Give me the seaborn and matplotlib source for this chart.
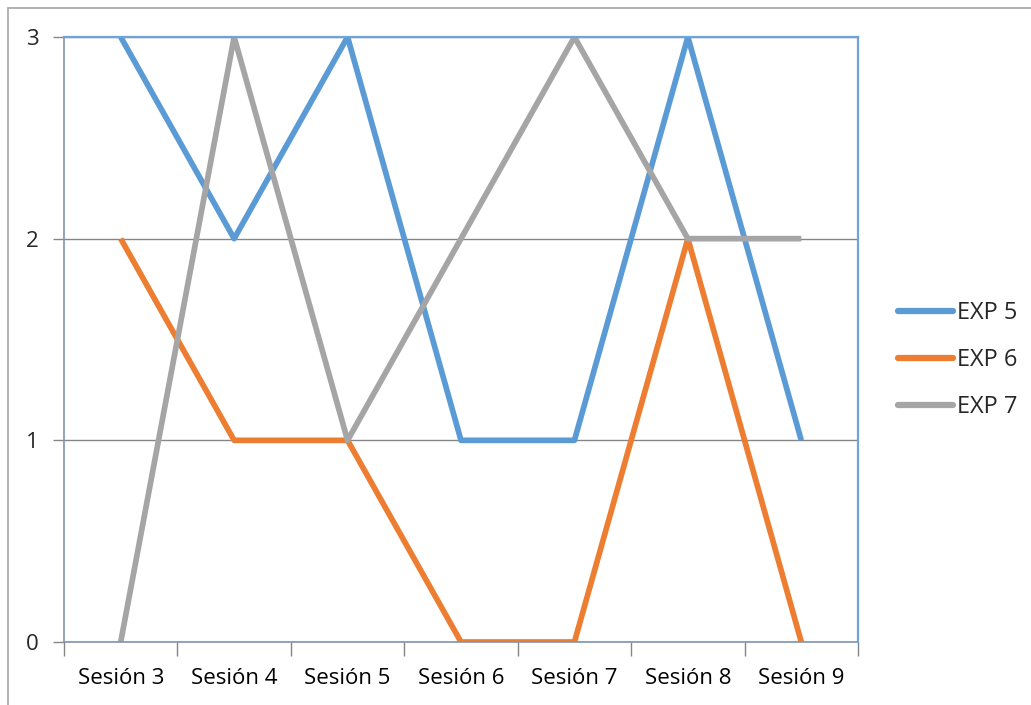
import matplotlib
matplotlib.use("Agg")
import matplotlib.pyplot as plt
from matplotlib.patches import Rectangle
from matplotlib.ticker import FixedLocator
import seaborn as sns
import pandas as pd

sessions = ["Sesión 3", "Sesión 4", "Sesión 5", "Sesión 6", "Sesión 7", "Sesión 8", "Sesión 9"]
exp5 = [3, 2, 3, 1, 1, 3, 1]
exp6 = [2, 1, 1, 0, 0, 2, 0]
exp7 = [0, 3, 1, 2, 3, 2, 2]
series_names = ["EXP 5", "EXP 6", "EXP 7"]
colors = ["#5B9BD5", "#ED7D31", "#A5A5A5"]

df = pd.DataFrame({"Sesión": sessions * 3,
                   "Valor": exp5 + exp6 + exp7,
                   "Serie": [s for s in series_names for _ in sessions]})

sns.set_theme(style="white")
plt.rcParams["font.family"] = ["Open Sans", "DejaVu Sans"]

W, H = 1031, 705
FS = 16
fig = plt.figure(figsize=(W / 100, H / 100), dpi=100)
ax = fig.add_axes([64 / W, 1 - 642 / H, (858 - 64) / W, (642 - 37) / H])

# outer chart frame (top and left edges visible)
fig.patches.append(Rectangle((8 / W, -0.05), 1.2, 1 - 8 / H + 0.05,
                             transform=fig.transFigure, fill=False,
                             edgecolor="#A6A6A6", linewidth=1.2, zorder=0))

sns.lineplot(data=df, x="Sesión", y="Valor", hue="Serie", palette=colors,
             linewidth=4.1, ax=ax, sort=False, solid_capstyle="butt")

ax.set_xlim(-0.5, 6.5)
ax.set_ylim(0, 3)
ax.set_xlabel("")
ax.set_ylabel("")

ax.set_yticks([0, 1, 2, 3])
ax.set_yticklabels(["0", "1", "2", "3"])
ax.yaxis.grid(True, color="#868686", linewidth=1.0)
ax.set_axisbelow(True)

ax.set_xticks(range(len(sessions)))
ax.set_xticklabels(sessions)
ax.xaxis.set_minor_locator(FixedLocator([i - 0.5 for i in range(len(sessions) + 1)]))

ax.tick_params(axis="x", which="major", length=0, pad=19, labelsize=FS, colors="black")
ax.tick_params(axis="x", which="minor", length=10, width=1, color="#868686", bottom=True)
ax.tick_params(axis="y", length=8, width=1, color="#868686", pad=10, labelsize=FS, left=True)

for s in ["left", "bottom"]:
    ax.spines[s].set_color("#8094AE")
    ax.spines[s].set_linewidth(1.2)
for s in ["top", "right"]:
    ax.spines[s].set_color("#6FA3DC")
    ax.spines[s].set_linewidth(1.6)
    ax.spines[s].set_zorder(3)

leg = ax.legend(loc="center left", bbox_to_anchor=(898 / W, 1 - 360 / H),
                bbox_transform=fig.transFigure, frameon=False, fontsize=17,
                borderpad=0, borderaxespad=0,
                handlelength=2.35, handletextpad=0.15, labelspacing=0.98)
for line in leg.get_lines():
    line.set_linewidth(4.5)
    line.set_solid_capstyle("round")

fig.savefig("out.png", dpi=100)
